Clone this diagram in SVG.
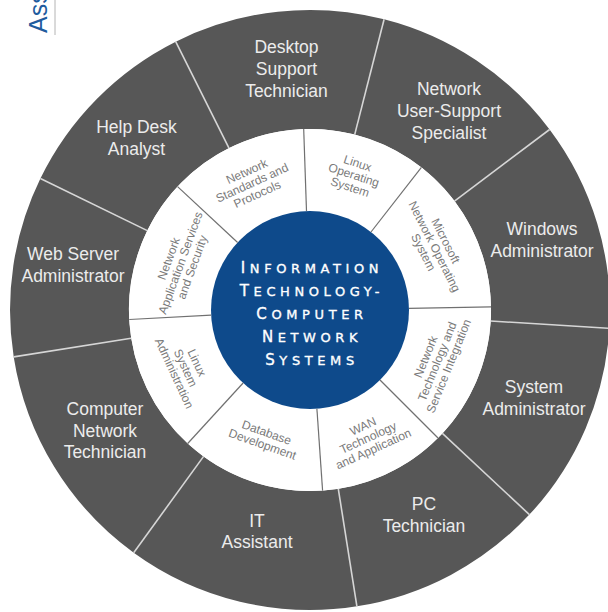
<svg xmlns="http://www.w3.org/2000/svg" width="608" height="612" viewBox="0 0 608 612">
<style>
.outer{fill:#575757}
.inner{fill:#ffffff}
.olbl{font-family:"Liberation Sans",Arial,sans-serif;font-size:17.5px;fill:#ececec;text-anchor:middle}
.ilbl{font-family:"Liberation Sans",Arial,sans-serif;font-size:12px;fill:#7a7a7a;text-anchor:middle}
.ttl{font-family:"DejaVu Sans",sans-serif;font-size:13px;fill:#ffffff;stroke:#ffffff;stroke-width:0.35;text-anchor:middle;letter-spacing:4.6px}
.big{font-size:15px}
.odiv{stroke:#d6d6d6;stroke-width:1.6}
.idiv{stroke:#707070;stroke-width:1.2}
</style>
<rect width="608" height="612" fill="#ffffff"/>
<g id="header">
<line x1="55" y1="0" x2="55" y2="35" stroke="#b4b4b4" stroke-width="1"/>
<text transform="translate(47,33) rotate(-90)" font-family="Liberation Sans, Arial, sans-serif" font-size="25" fill="#1f5c9e">Ass</text>
</g>
<g id="outer-sectors">
<g id="desktop-support-technician">
<path class="outer" d="M175.7,41.7 A300,300 0 0 1 384.1,19.3 L354.7,134.6 A181,181 0 0 0 229.0,148.1 Z"/>
<text class="olbl" x="286.5" y="53">Desktop</text>
<text class="olbl" x="286.5" y="75">Support</text>
<text class="olbl" x="286.5" y="97">Technician</text>
</g>
<g id="network-user-support-specialist">
<path class="outer" d="M384.1,19.3 A300,300 0 0 1 549.6,129.5 L454.5,201.1 A181,181 0 0 0 354.7,134.6 Z"/>
<text class="olbl" x="449" y="95">Network</text>
<text class="olbl" x="449" y="117">User-Support</text>
<text class="olbl" x="449" y="139">Specialist</text>
</g>
<g id="windows-administrator">
<path class="outer" d="M549.6,129.5 A300,300 0 0 1 609.4,328.3 L490.7,321.0 A181,181 0 0 0 454.5,201.1 Z"/>
<text class="olbl" x="542" y="235">Windows</text>
<text class="olbl" x="542" y="257">Administrator</text>
</g>
<g id="system-administrator">
<path class="outer" d="M609.4,328.3 A300,300 0 0 1 529.4,514.6 L442.4,433.4 A181,181 0 0 0 490.7,321.0 Z"/>
<text class="olbl" x="534" y="393">System</text>
<text class="olbl" x="534" y="415">Administrator</text>
</g>
<g id="pc-technician">
<path class="outer" d="M529.4,514.6 A300,300 0 0 1 356.9,606.3 L338.3,488.8 A181,181 0 0 0 442.4,433.4 Z"/>
<text class="olbl" x="424" y="510">PC</text>
<text class="olbl" x="424" y="532">Technician</text>
</g>
<g id="it-assistant">
<path class="outer" d="M356.9,606.3 A300,300 0 0 1 133.7,552.7 L203.6,456.4 A181,181 0 0 0 338.3,488.8 Z"/>
<text class="olbl" x="257" y="527">IT</text>
<text class="olbl" x="257" y="548">Assistant</text>
</g>
<g id="computer-network-technician">
<path class="outer" d="M133.7,552.7 A300,300 0 0 1 13.7,356.9 L131.2,338.3 A181,181 0 0 0 203.6,456.4 Z"/>
<text class="olbl" x="105" y="415">Computer</text>
<text class="olbl" x="105" y="437">Network</text>
<text class="olbl" x="105" y="458">Technician</text>
</g>
<g id="web-server-administrator">
<path class="outer" d="M13.7,356.9 A300,300 0 0 1 40.4,178.5 L147.3,230.6 A181,181 0 0 0 131.2,338.3 Z"/>
<text class="olbl" x="73" y="260">Web Server</text>
<text class="olbl" x="73" y="282">Administrator</text>
</g>
<g id="help-desk-analyst">
<path class="outer" d="M40.4,178.5 A300,300 0 0 1 175.7,41.7 L229.0,148.1 A181,181 0 0 0 147.3,230.6 Z"/>
<text class="olbl" x="136.5" y="133">Help Desk</text>
<text class="olbl" x="136.5" y="155">Analyst</text>
</g>
</g>
<g id="inner-sectors">
<g id="network-standards-and-protocols">
<path class="inner" d="M177.6,186.6 A181,181 0 0 1 303.7,129.1 L306.5,211.1 A99,99 0 0 0 237.6,242.5 Z"/>
<text class="ilbl" transform="translate(251.9,182.6) rotate(-24.5)"><tspan x="0" y="-8.2">Network</tspan><tspan x="0" y="4.3">Standards and</tspan><tspan x="0" y="16.8">Protocols</tspan></text>
</g>
<g id="linux-operating-system">
<path class="inner" d="M303.7,129.1 A181,181 0 0 1 421.4,167.4 L371.0,232.0 A99,99 0 0 0 306.5,211.1 Z"/>
<text class="ilbl" transform="translate(353.9,174.9) rotate(18)"><tspan x="0" y="-8.2">Linux</tspan><tspan x="0" y="4.3">Operating</tspan><tspan x="0" y="16.8">System</tspan></text>
</g>
<g id="microsoft-network-operating-system">
<path class="inner" d="M421.4,167.4 A181,181 0 0 1 491.0,306.8 L409.0,308.3 A99,99 0 0 0 371.0,232.0 Z"/>
<text class="ilbl" transform="translate(434.7,246.4) rotate(63)"><tspan x="0" y="-8.2">Microsoft</tspan><tspan x="0" y="4.3">Network Operating</tspan><tspan x="0" y="16.8">System</tspan></text>
</g>
<g id="network-technology-and-service-integration">
<path class="inner" d="M491.0,306.8 A181,181 0 0 1 438.0,438.0 L380.0,380.0 A99,99 0 0 0 409.0,308.3 Z"/>
<text class="ilbl" transform="translate(437,361.3) rotate(-68)"><tspan x="0" y="-8.2">Network</tspan><tspan x="0" y="4.3">Technology and</tspan><tspan x="0" y="16.8">Service Integration</tspan></text>
</g>
<g id="wan-technology-and-application">
<path class="inner" d="M438.0,438.0 A181,181 0 0 1 322.6,490.6 L316.9,408.8 A99,99 0 0 0 380.0,380.0 Z"/>
<text class="ilbl" transform="translate(368.1,437.4) rotate(-24.5)"><tspan x="0" y="-8.2">WAN</tspan><tspan x="0" y="4.3">Technology</tspan><tspan x="0" y="16.8">and Application</tspan></text>
</g>
<g id="database-development">
<path class="inner" d="M322.6,490.6 A181,181 0 0 1 187.7,443.5 L243.1,383.0 A99,99 0 0 0 316.9,408.8 Z"/>
<text class="ilbl" transform="translate(264.6,438.2) rotate(19.5)"><tspan x="0" y="-2">Database</tspan><tspan x="0" y="10.5">Development</tspan></text>
</g>
<g id="linux-system-administration">
<path class="inner" d="M187.7,443.5 A181,181 0 0 1 129.3,319.5 L211.1,315.2 A99,99 0 0 0 243.1,383.0 Z"/>
<text class="ilbl" transform="translate(185.8,367.9) rotate(65)"><tspan x="0" y="-8.2">Linux</tspan><tspan x="0" y="4.3">System</tspan><tspan x="0" y="16.8">Administration</tspan></text>
</g>
<g id="network-application-services-and-security">
<path class="inner" d="M129.3,319.5 A181,181 0 0 1 177.6,186.6 L237.6,242.5 A99,99 0 0 0 211.1,315.2 Z"/>
<text class="ilbl" transform="translate(180.3,262.8) rotate(-70)"><tspan x="0" y="-8.2">Network</tspan><tspan x="0" y="4.3">Application Services</tspan><tspan x="0" y="16.8">and Security</tspan></text>
</g>
</g>
<g id="center">
<circle cx="310" cy="310" r="99" fill="#0e4a8b"/>
<text class="ttl" x="312" y="273"><tspan class="big">I</tspan>NFORMATION</text>
<text class="ttl" x="312" y="296"><tspan class="big">T</tspan>ECHNOLOGY-</text>
<text class="ttl" x="312" y="319"><tspan class="big">C</tspan>OMPUTER</text>
<text class="ttl" x="312" y="342"><tspan class="big">N</tspan>ETWORK</text>
<text class="ttl" x="312" y="365"><tspan class="big">S</tspan>YSTEMS</text>
</g>
<g id="connectors">
<line class="odiv" x1="175.7" y1="41.7" x2="229.0" y2="148.1"/>
<line class="odiv" x1="384.1" y1="19.3" x2="354.7" y2="134.6"/>
<line class="odiv" x1="549.6" y1="129.5" x2="454.5" y2="201.1"/>
<line class="odiv" x1="609.4" y1="328.3" x2="490.7" y2="321.0"/>
<line class="odiv" x1="529.4" y1="514.6" x2="442.4" y2="433.4"/>
<line class="odiv" x1="356.9" y1="606.3" x2="338.3" y2="488.8"/>
<line class="odiv" x1="133.7" y1="552.7" x2="203.6" y2="456.4"/>
<line class="odiv" x1="13.7" y1="356.9" x2="131.2" y2="338.3"/>
<line class="odiv" x1="40.4" y1="178.5" x2="147.3" y2="230.6"/>
<line class="idiv" x1="177.6" y1="186.6" x2="237.6" y2="242.5"/>
<line class="idiv" x1="303.7" y1="129.1" x2="306.5" y2="211.1"/>
<line class="idiv" x1="421.4" y1="167.4" x2="371.0" y2="232.0"/>
<line class="idiv" x1="491.0" y1="306.8" x2="409.0" y2="308.3"/>
<line class="idiv" x1="438.0" y1="438.0" x2="380.0" y2="380.0"/>
<line class="idiv" x1="322.6" y1="490.6" x2="316.9" y2="408.8"/>
<line class="idiv" x1="187.7" y1="443.5" x2="243.1" y2="383.0"/>
<line class="idiv" x1="129.3" y1="319.5" x2="211.1" y2="315.2"/>
</g>
</svg>
